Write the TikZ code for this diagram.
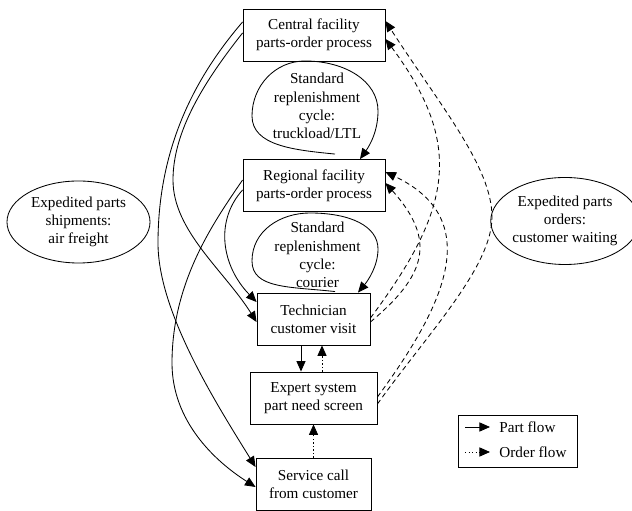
\documentclass[tikz,border=0pt]{standalone}
\usepackage{fontspec}
\setmainfont{Liberation Serif}
\usetikzlibrary{arrows.meta,shapes.geometric,calc}

\begin{document}
\begin{tikzpicture}[x=0.025cm, y=0.025cm, line width=0.6pt,
    >={Triangle[length=7.5pt,width=6.5pt]},
    font=\fontsize{10.8}{13}\selectfont,
    box/.style={draw, align=center, inner sep=0pt, minimum height=1.3cm},
    oval/.style={draw, ellipse, align=center, inner sep=0pt},
    order/.style={dash pattern=on 3.5pt off 2.5pt},
    orderdot/.style={dash pattern=on 1pt off 1.5pt}]
    \useasboundingbox (0,0) rectangle (632,511);

    % Process chain
    \node[box, minimum width=3.55cm] (central) at (314,476) {Central facility\\parts-order process};
    \node[box, minimum width=3.55cm] (regional) at (314,325.5) {Regional facility\\parts-order process};
    \node[box, minimum width=2.825cm] (tech) at (313.5,192) {Technician\\customer visit};
    \node[box, minimum width=3.175cm] (expert) at (313.5,113) {Expert system\\part need screen};
    \node[box, minimum width=2.875cm] (service) at (313.5,27) {Service call\\from customer};

    % Side notes
    \node[oval, minimum width=3.575cm, minimum height=2.05cm] (airfreight) at (78.5,289) {Expedited parts\\shipments:\\air freight};
    \node[oval, minimum width=3.3cm, minimum height=2.175cm] (waiting) at (565,290) {Expedited parts\\orders:\\customer waiting};

    % Standard replenishment cycles
    \node[align=center, inner sep=0pt] (truckload) at (317,405) {Standard\\replenishment\\cycle:\\truckload/LTL};
    \draw[->] ($(regional.north)+(21,5)$) .. controls +(-40,4) and +(0,-30) .. (252,395)
        .. controls +(0,30) and +(-30,0) .. (305,450)
        .. controls +(40,0) and +(0,30) .. (378,400)
        .. controls +(0,-20) and +(10,14) .. ($(regional.north)+(46,0)$);
    \node[align=center, inner sep=0pt] (courier) at (317.5,256) {Standard\\replenishment\\cycle:\\courier};
    \draw[->] ($(tech.north)+(21.5,1)$) .. controls +(-45,5) and +(0,-28) .. (252,250)
        .. controls +(0,30) and +(-30,0) .. (310,298)
        .. controls +(40,0) and +(0,23) .. (378,262)
        .. controls +(0,-17) and +(10,12) .. ($(tech.north)+(44.5,0)$);

    % Part flow, left side
    \draw[->] ($(central.west)+(0,13)$) .. controls +(-42,-49) and +(0,102) .. (158,268)
        .. controls +(0,-68) and +(-41,66) .. ($(service.west)+(0,17)$);
    \draw[->] ($(central.west)+(0,2)$) .. controls +(-38,-48) and +(0,49) .. (173,331)
        .. controls +(0,-51) and +(-32,51) .. ($(tech.west)+(0,-3)$);
    \draw[->] ($(regional.west)+(0,-4.5)$) .. controls +(-28,-31) and +(-35,36) .. ($(tech.west)+(0,17)$);
    \draw[->] ($(regional.west)+(0,5.5)$) .. controls +(-28,-41) and +(0,82) .. (172,148)
        .. controls +(0,-58) and +(-41,26) .. ($(service.west)+(0,-3)$);

    % Part and order flow, centre
    \draw[->] ($(tech.south)+(-12.5,0)$) -- ($(expert.north)+(-12.5,0)$);
    \draw[->, orderdot] ($(expert.north)+(8.5,0)$) -- ($(tech.south)+(8.5,0)$);
    \draw[->, orderdot] (service.north) -- (expert.south);

    % Order flow, right side
    \draw[->, order] ($(tech.east)+(0,1)$) .. controls +(80,107) and +(80,-107) .. ($(central.east)+(0,-4)$);
    \draw[->, order] ($(tech.east)+(0,-3)$) .. controls +(55,46) and +(52,-58) .. ($(regional.east)+(0,2.5)$);
    \draw[->, order] ($(expert.east)+(0,1)$) .. controls +(63,86) and +(103,-49) .. ($(regional.east)+(0,13.5)$);
    \draw[->, order] ($(expert.east)+(0,-6)$) .. controls +(50,70) and +(0,-50) .. (492,294)
        .. controls +(0,50) and +(55,-85) .. ($(central.east)+(0,14)$);

    % Legend
    \node[box, minimum width=2.975cm] (legend) at (517.5,70) {};
    \coordinate (parta) at (465,84);
    \coordinate (partb) at (490,84);
    \draw[->] (parta) -- (partb);
    \node[anchor=west, inner sep=0pt] (partlabel) at (499,84) {Part flow};
    \coordinate (ordera) at (465,59);
    \coordinate (orderb) at (490,59);
    \draw[->, orderdot] (ordera) -- (orderb);
    \node[anchor=west, inner sep=0pt] (orderlabel) at (499,59) {Order flow};
\end{tikzpicture}
\end{document}
